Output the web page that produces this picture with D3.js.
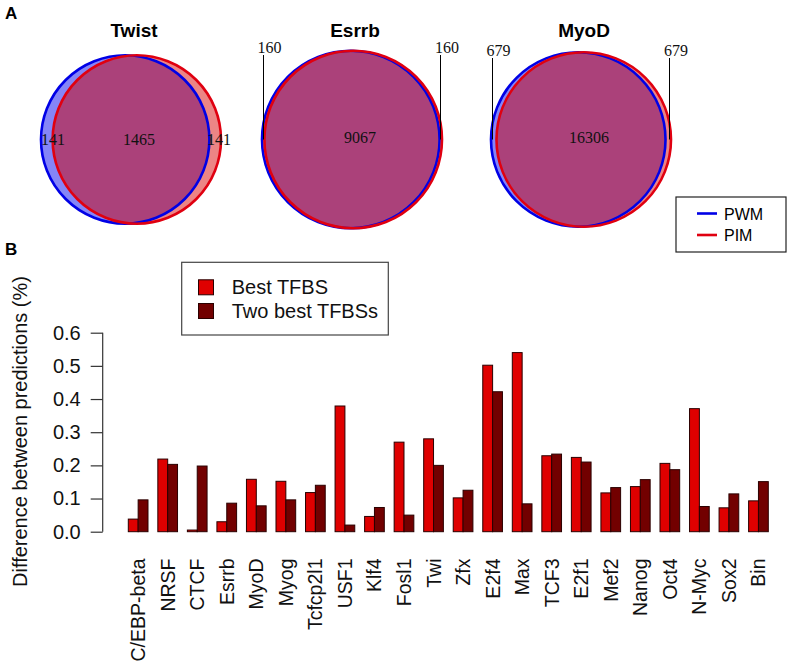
<!DOCTYPE html>
<html>
<head>
<meta charset="utf-8">
<script src="https://cdn.jsdelivr.net/npm/d3@7"></script>
<style>
  body { margin: 0; background: #fff; }
  svg text { font-family: "Liberation Sans", Arial, sans-serif; }
</style>
</head>
<body>
<div class="fig"></div>
<script>
// ---- panel A data: Venn counts (PWM only, both, PIM only)
var vennNames = ["Twist", "Esrrb", "MyoD"];
var pwmOnly = [141, 160, 679];
var shared = [1465, 9067, 16306];
var pimOnly = [141, 160, 679];

// ---- panel B data
var factors = ["C/EBP-beta", "NRSF", "CTCF", "Esrrb", "MyoD", "Myog", "Tcfcp2l1", "USF1", "Klf4", "Fosl1",
	"Twi", "Zfx", "E2f4", "Max", "TCF3", "E2f1", "Mef2", "Nanog", "Oct4", "N-Myc", "Sox2", "Bin"];
var bestTFBS = [0.038, 0.219, 0.005, 0.030, 0.158, 0.152, 0.118, 0.379, 0.046, 0.270,
	0.280, 0.102, 0.502, 0.540, 0.229, 0.224, 0.117, 0.136, 0.206, 0.371, 0.072, 0.093];
var twoBestTFBS = [0.096, 0.203, 0.198, 0.086, 0.078, 0.096, 0.140, 0.020, 0.073, 0.050,
	0.200, 0.125, 0.422, 0.084, 0.234, 0.210, 0.133, 0.157, 0.187, 0.076, 0.114, 0.151];
var seriesNames = ["Best TFBS", "Two best TFBSs"];
var yTicks = [0, 0.1, 0.2, 0.3, 0.4, 0.5, 0.6];

var svg = d3.select(".fig")
	.append("svg")
	.attr("width", 792)
	.attr("height", 666);

// panel letters
svg.append("text").attr("x", 5).attr("y", 19)
	.style("font-weight", "bold").style("font-size", "17px").text("A");
svg.append("text").attr("x", 5).attr("y", 255)
	.style("font-weight", "bold").style("font-size", "17px").text("B");

// ----------------------------------------------------------
// Venn diagrams

// lens area of two equal circles (unit radius) at distance d
function lensFrac(d) {
	var a = 2 * Math.acos(d / 2) - (d / 2) * Math.sqrt(4 - d * d);
	return a / Math.PI;
}
// distance (in radii) giving the overlap fraction f
function solveDist(f) {
	var lo = 0, hi = 2;
	for (var k = 0; k < 60; k++) {
		var mid = (lo + hi) / 2;
		if (lensFrac(mid) > f) lo = mid; else hi = mid;
	}
	return (lo + hi) / 2;
}

var panelX = [131, 352, 581];
var vennY = 139.5;
var vennWidth = 180;
var defs = svg.append("defs");

vennNames.forEach(function(name, i) {
	var total = pwmOnly[i] + shared[i];
	var k = solveDist(shared[i] / total);
	var r = vennWidth / (2 + k);
	var d = k * r;
	var cb = panelX[i] - d / 2, cr = panelX[i] + d / 2;

	var g = svg.append("g");
	g.append("text").attr("x", panelX[i] + 3).attr("y", 37)
		.attr("text-anchor", "middle")
		.style("font-weight", "bold").style("font-size", "19px")
		.text(name);

	defs.append("clipPath").attr("id", "clipb" + i)
		.append("circle").attr("cx", cb).attr("cy", vennY).attr("r", r);

	g.append("circle").attr("cx", cb).attr("cy", vennY).attr("r", r)
		.style("fill", "#8585f7");
	g.append("circle").attr("cx", cr).attr("cy", vennY).attr("r", r)
		.style("fill", "#ec8585");
	g.append("circle").attr("cx", cr).attr("cy", vennY).attr("r", r)
		.attr("clip-path", "url(#clipb" + i + ")")
		.style("fill", "#ab417a");
	g.append("circle").attr("cx", cb).attr("cy", vennY).attr("r", r)
		.style("fill", "none").style("stroke", "#0000e6").style("stroke-width", 2.6);
	g.append("circle").attr("cx", cr).attr("cy", vennY).attr("r", r)
		.style("fill", "none").style("stroke", "#e00010").style("stroke-width", 2.6);

	var numStyle = function(t) {
		t.attr("text-anchor", "middle")
			.style("font-family", "'Liberation Serif', 'Times New Roman', serif")
			.style("font-size", "16px")
			.style("fill", "#111");
	};

	if (i == 0) {
		g.append("text").attr("x", cb - r + 12).attr("y", vennY + 5.5).call(numStyle).text(pwmOnly[i]);
		g.append("text").attr("x", cr + r - 2).attr("y", vennY + 5.5).call(numStyle).text(pimOnly[i]);
		g.append("text").attr("x", panelX[i] + 8).attr("y", vennY + 5.5).call(numStyle).text(shared[i]);
	} else {
		var ly = i == 1 ? 53 : 56;
		var lx = cb - r + 1.5, rx = cr + r - 1.5;
		g.append("line").attr("x1", lx).attr("x2", lx).attr("y1", ly + 2).attr("y2", vennY)
			.style("stroke", "#000").style("stroke-width", 1);
		g.append("line").attr("x1", rx).attr("x2", rx).attr("y1", ly + 2).attr("y2", vennY)
			.style("stroke", "#000").style("stroke-width", 1);
		g.append("text").attr("x", lx + 6).attr("y", ly).call(numStyle).text(pwmOnly[i]);
		g.append("text").attr("x", rx + 6.5).attr("y", ly).call(numStyle).text(pimOnly[i]);
		g.append("text").attr("x", panelX[i] + 8).attr("y", vennY + 3.5).call(numStyle).text(shared[i]);
	}
});

// Venn legend
var legA = svg.append("g");
legA.append("rect").attr("x", 676).attr("y", 197).attr("width", 110).attr("height", 55)
	.style("fill", "#fff").style("stroke", "#222").style("stroke-width", 1.2);
[["PWM", "#0000e6"], ["PIM", "#e00010"]].forEach(function(it, j) {
	var yy = 213.5 + j * 21.5;
	legA.append("line").attr("x1", 697).attr("x2", 717).attr("y1", yy).attr("y2", yy)
		.style("stroke", it[1]).style("stroke-width", 2.6);
	legA.append("text").attr("x", 724).attr("y", yy + 6)
		.style("font-size", "16px").text(it[0]);
});

// ----------------------------------------------------------
// bar chart

var x0 = d3.scaleBand()
	.domain(factors)
	.range([128.3, 768.3])
	.paddingInner(1 / 3)
	.paddingOuter(0);

var x1 = d3.scaleBand()
	.domain(seriesNames)
	.range([0, x0.bandwidth()]);

var y = d3.scaleLinear()
	.domain([0, 0.6])
	.range([531.7, 332.7]);

var barColor = d3.scaleOrdinal()
	.domain(seriesNames)
	.range(["#df0000", "#720000"]);

var rows = factors.map(function(f, i) {
	return { name: f, values: [
		{ key: seriesNames[0], value: bestTFBS[i] },
		{ key: seriesNames[1], value: twoBestTFBS[i] }
	] };
});

var groups = svg.selectAll(".grp")
	.data(rows)
	.enter().append("g")
	.attr("class", "grp")
	.attr("transform", function(d) { return "translate(" + x0(d.name) + ",0)"; });

groups.selectAll("rect")
	.data(function(d) { return d.values; })
	.enter().append("rect")
	.attr("x", function(d) { return x1(d.key); })
	.attr("y", function(d) { return y(d.value); })
	.attr("width", x1.bandwidth())
	.attr("height", function(d) { return y(0) - y(d.value); })
	.style("fill", function(d) { return barColor(d.key); })
	.style("stroke", "#2a0000")
	.style("stroke-width", 1);

// y axis
var yAxis = svg.append("g")
	.attr("transform", "translate(102.7,0)")
	.call(d3.axisLeft(y).tickValues(yTicks).tickFormat(d3.format(".1f")).tickSize(12).tickPadding(10));
yAxis.selectAll("path, line").style("stroke", "#333").style("stroke-width", 1.2);
yAxis.select(".domain").attr("d", "M0," + y(0) + "V" + y(0.6));
yAxis.selectAll("text").style("font-size", "20px").style("font-family", "'Liberation Sans', Arial, sans-serif").style("fill", "#111");

svg.append("text")
	.attr("transform", "translate(27,431.5) rotate(-90)")
	.attr("text-anchor", "middle")
	.style("font-size", "20px")
	.style("fill", "#111")
	.text("Difference between predictions (%)");

// category labels
svg.selectAll(".xlab")
	.data(factors)
	.enter().append("text")
	.attr("class", "xlab")
	.attr("transform", function(d) {
		return "translate(" + (x0(d) + x0.bandwidth() / 2 + 7) + ",558.5) rotate(-90)";
	})
	.attr("text-anchor", "end")
	.style("font-size", "19.5px")
	.style("fill", "#111")
	.text(function(d) { return d; });

// bar legend
var legB = svg.append("g");
legB.append("rect").attr("x", 181.7).attr("y", 262.3).attr("width", 206.6).attr("height", 72.7)
	.style("fill", "#fff").style("stroke", "#444").style("stroke-width", 1.2);
seriesNames.forEach(function(s, j) {
	var yy = 287.3 + j * 23.7;
	legB.append("rect").attr("x", 198.5).attr("y", yy - 7.5).attr("width", 15).attr("height", 15)
		.style("fill", barColor(s)).style("stroke", "#2a0000").style("stroke-width", 1);
	legB.append("text").attr("x", 231.7).attr("y", yy + 7)
		.style("font-size", "20px").style("fill", "#111").text(s);
});
</script>
</body>
</html>
